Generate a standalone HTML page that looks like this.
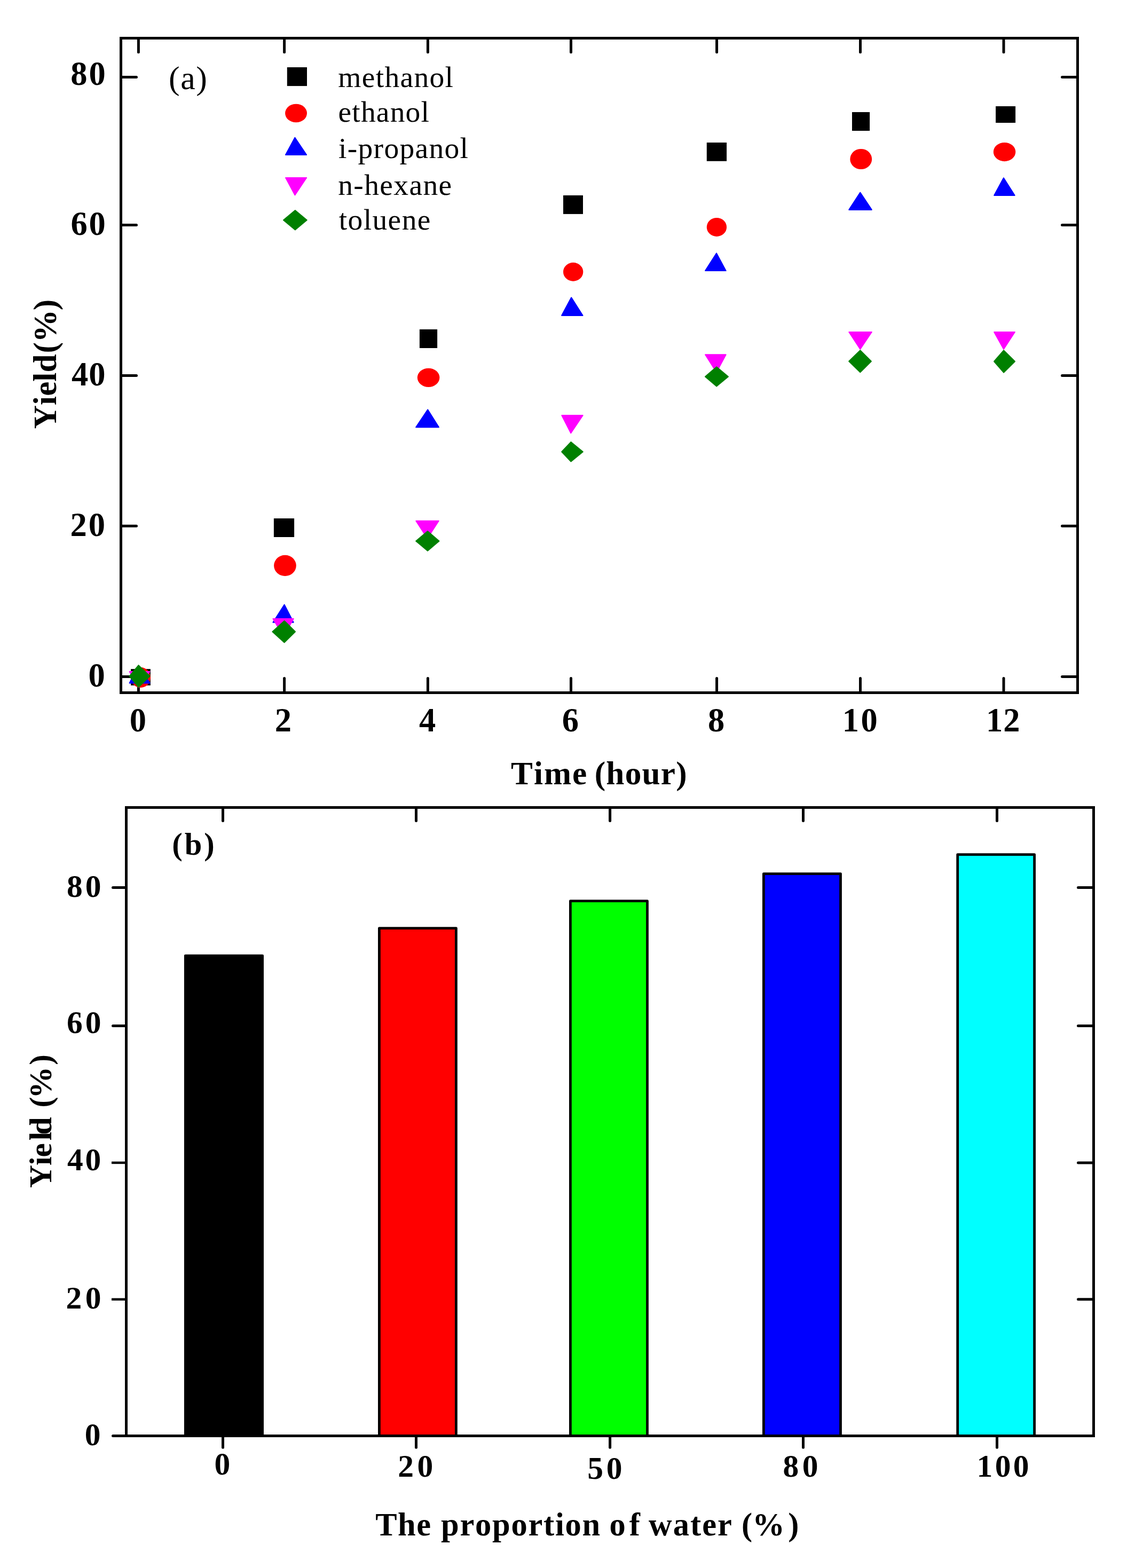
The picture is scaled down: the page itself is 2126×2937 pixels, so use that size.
<!DOCTYPE html>
<html><head><meta charset="utf-8"><title>Yield charts</title>
<style>
html,body{margin:0;padding:0;background:#fff;}
body{width:2126px;height:2937px;overflow:hidden;}
svg{display:block;font-family:"Liberation Serif","DejaVu Serif",serif;}
text{fill:#000;white-space:pre;}
</style></head><body>
<svg width="2126" height="2937" viewBox="0 0 2126 2937">
<rect width="2126" height="2937" fill="#fff"/>
<g id="chart-a">
<rect x="224.00" y="69.00" width="5.00" height="1231.00" fill="#000"/>
<rect x="2016.00" y="69.00" width="5.00" height="1231.00" fill="#000"/>
<rect x="224.00" y="69.00" width="1797.00" height="5.00" fill="#000"/>
<rect x="224.00" y="1295.00" width="1797.00" height="5.00" fill="#000"/>
<line x1="259.40" y1="1295.00" x2="259.40" y2="1270.50" stroke="#000" stroke-width="5" stroke-linecap="round"/>
<line x1="259.40" y1="74.00" x2="259.40" y2="97.80" stroke="#000" stroke-width="5" stroke-linecap="round"/>
<line x1="532.60" y1="1295.00" x2="532.60" y2="1270.50" stroke="#000" stroke-width="5" stroke-linecap="round"/>
<line x1="532.60" y1="74.00" x2="532.60" y2="97.80" stroke="#000" stroke-width="5" stroke-linecap="round"/>
<line x1="801.40" y1="1295.00" x2="801.40" y2="1270.50" stroke="#000" stroke-width="5" stroke-linecap="round"/>
<line x1="801.40" y1="74.00" x2="801.40" y2="97.80" stroke="#000" stroke-width="5" stroke-linecap="round"/>
<line x1="1069.50" y1="1295.00" x2="1069.50" y2="1270.50" stroke="#000" stroke-width="5" stroke-linecap="round"/>
<line x1="1069.50" y1="74.00" x2="1069.50" y2="97.80" stroke="#000" stroke-width="5" stroke-linecap="round"/>
<line x1="1342.60" y1="1295.00" x2="1342.60" y2="1270.50" stroke="#000" stroke-width="5" stroke-linecap="round"/>
<line x1="1342.60" y1="74.00" x2="1342.60" y2="97.80" stroke="#000" stroke-width="5" stroke-linecap="round"/>
<line x1="1611.50" y1="1295.00" x2="1611.50" y2="1270.50" stroke="#000" stroke-width="5" stroke-linecap="round"/>
<line x1="1611.50" y1="74.00" x2="1611.50" y2="97.80" stroke="#000" stroke-width="5" stroke-linecap="round"/>
<line x1="1880.00" y1="1295.00" x2="1880.00" y2="1270.50" stroke="#000" stroke-width="5" stroke-linecap="round"/>
<line x1="1880.00" y1="74.00" x2="1880.00" y2="97.80" stroke="#000" stroke-width="5" stroke-linecap="round"/>
<line x1="229.00" y1="144.60" x2="255.50" y2="144.60" stroke="#000" stroke-width="5" stroke-linecap="round"/>
<line x1="2016.00" y1="144.60" x2="1989.50" y2="144.60" stroke="#000" stroke-width="5" stroke-linecap="round"/>
<line x1="229.00" y1="421.50" x2="255.50" y2="421.50" stroke="#000" stroke-width="5" stroke-linecap="round"/>
<line x1="2016.00" y1="421.50" x2="1989.50" y2="421.50" stroke="#000" stroke-width="5" stroke-linecap="round"/>
<line x1="229.00" y1="703.50" x2="255.50" y2="703.50" stroke="#000" stroke-width="5" stroke-linecap="round"/>
<line x1="2016.00" y1="703.50" x2="1989.50" y2="703.50" stroke="#000" stroke-width="5" stroke-linecap="round"/>
<line x1="229.00" y1="985.30" x2="255.50" y2="985.30" stroke="#000" stroke-width="5" stroke-linecap="round"/>
<line x1="2016.00" y1="985.30" x2="1989.50" y2="985.30" stroke="#000" stroke-width="5" stroke-linecap="round"/>
<line x1="229.00" y1="1267.50" x2="255.50" y2="1267.50" stroke="#000" stroke-width="5" stroke-linecap="round"/>
<line x1="2016.00" y1="1267.50" x2="1989.50" y2="1267.50" stroke="#000" stroke-width="5" stroke-linecap="round"/>
<text x="242.83" y="1370.00" font-size="62.5" font-weight="bold">0</text>
<text x="514.86" y="1370.00" font-size="62.5" font-weight="bold">2</text>
<text x="784.98" y="1370.00" font-size="62.5" font-weight="bold">4</text>
<text x="1052.72" y="1370.00" font-size="62.5" font-weight="bold">6</text>
<text x="1325.88" y="1370.00" font-size="62.5" font-weight="bold">8</text>
<text x="1577.80 1612.43" y="1370.00" font-size="62.5" font-weight="bold">10</text>
<text x="1846.90 1879.34" y="1370.00" font-size="62.5" font-weight="bold">12</text>
<text x="132.22 166.53" y="158.70" font-size="62.5" font-weight="bold">80</text>
<text x="132.56 166.53" y="440.40" font-size="62.5" font-weight="bold">60</text>
<text x="133.95 166.23" y="722.30" font-size="62.5" font-weight="bold">40</text>
<text x="131.38 165.73" y="1004.00" font-size="62.5" font-weight="bold">20</text>
<text x="165.53" y="1285.50" font-size="62.5" font-weight="bold">0</text>
<text transform="translate(105.00,802.10) rotate(-90)" x="-1.08 43.20 60.24 87.46 104.50 140.58 160.88 220.80" y="0" font-size="61.3" font-weight="bold">Yield(%)</text>
<text x="957.04 999.91 1018.93 1071.98 1099.19 1113.71 1135.34 1170.66 1202.53 1237.85 1266.28" y="1469.20" font-size="61.3" font-weight="bold">Time (hour)</text>
<text x="316.08 338.19 367.18" y="167.30" font-size="62" font-weight="normal">(a)</text>
<text x="633.33 677.81 703.75 720.48 749.54 775.48 804.53 833.59" y="163.10" font-size="55.5" font-weight="normal">methanol</text>
<text x="633.53 659.34 675.93 704.85 730.65 759.57 788.49" y="228.40" font-size="55.5" font-weight="normal">ethanol</text>
<text x="634.03 650.76 670.56 699.62 719.41 748.47 777.53 803.47 832.53 861.59" y="296.00" font-size="55.5" font-weight="normal">i-propanol</text>
<text x="633.23 662.34 682.18 711.29 737.28 766.39 792.38 821.49" y="364.80" font-size="55.5" font-weight="normal">n-hexane</text>
<text x="634.66 651.48 680.63 697.45 726.60 752.64 781.79" y="429.80" font-size="55.5" font-weight="normal">toluene</text>
<rect x="537.80" y="126.00" width="37.20" height="35.10" fill="#000"/>
<ellipse cx="554.55" cy="212.05" rx="20.45" ry="17.25" fill="#f00"/>
<path d="M552.40 257.70L574.10 290.00L535.00 290.00Z" fill="#00f" stroke="#00f" stroke-width="2" stroke-linejoin="round"/>
<path d="M552.40 365.40L574.10 332.90L535.00 332.90Z" fill="#f0f" stroke="#f0f" stroke-width="2" stroke-linejoin="round"/>
<path d="M552.85 394.10L574.70 412.30L552.85 430.50L531.00 412.30Z" fill="#008000" stroke="#008000" stroke-width="2" stroke-linejoin="round"/>
<rect x="245.10" y="1253.10" width="36.80" height="30.70" fill="#000"/>
<rect x="512.90" y="971.00" width="38.20" height="35.00" fill="#000"/>
<rect x="785.90" y="616.90" width="33.20" height="35.10" fill="#000"/>
<rect x="1055.00" y="365.90" width="37.00" height="35.00" fill="#000"/>
<rect x="1323.80" y="267.00" width="37.30" height="34.80" fill="#000"/>
<rect x="1596.00" y="210.00" width="33.10" height="35.00" fill="#000"/>
<rect x="1865.10" y="199.00" width="37.00" height="31.00" fill="#000"/>
<ellipse cx="263.55" cy="1269.00" rx="18.45" ry="19.00" fill="#f00"/>
<ellipse cx="533.95" cy="1059.40" rx="20.85" ry="19.60" fill="#f00"/>
<ellipse cx="802.60" cy="707.35" rx="20.80" ry="17.65" fill="#f00"/>
<ellipse cx="1073.65" cy="509.25" rx="18.65" ry="17.45" fill="#f00"/>
<ellipse cx="1342.45" cy="425.45" rx="18.65" ry="17.45" fill="#f00"/>
<ellipse cx="1612.75" cy="298.00" rx="20.45" ry="19.10" fill="#f00"/>
<ellipse cx="1881.55" cy="284.55" rx="20.75" ry="17.65" fill="#f00"/>
<path d="M259.50 1246.60L280.50 1279.40L242.60 1279.40Z" fill="#00f" stroke="#00f" stroke-width="2" stroke-linejoin="round"/>
<path d="M532.70 1132.60L549.70 1165.80L511.40 1165.80Z" fill="#00f" stroke="#00f" stroke-width="2" stroke-linejoin="round"/>
<path d="M801.20 767.40L822.00 800.20L779.10 800.20Z" fill="#00f" stroke="#00f" stroke-width="2" stroke-linejoin="round"/>
<path d="M1070.20 557.30L1091.60 591.00L1052.10 591.00Z" fill="#00f" stroke="#00f" stroke-width="2" stroke-linejoin="round"/>
<path d="M1342.10 474.40L1359.70 507.10L1321.10 507.10Z" fill="#00f" stroke="#00f" stroke-width="2" stroke-linejoin="round"/>
<path d="M1611.30 360.60L1632.80 392.90L1590.30 392.90Z" fill="#00f" stroke="#00f" stroke-width="2" stroke-linejoin="round"/>
<path d="M1879.90 333.30L1900.70 366.00L1862.20 366.00Z" fill="#00f" stroke="#00f" stroke-width="2" stroke-linejoin="round"/>
<path d="M259.50 1287.40L280.50 1258.00L242.60 1258.00Z" fill="#f0f" stroke="#f0f" stroke-width="2" stroke-linejoin="round"/>
<path d="M531.00 1192.10L549.70 1158.90L511.40 1158.90Z" fill="#f0f" stroke="#f0f" stroke-width="2" stroke-linejoin="round"/>
<path d="M800.50 1008.40L821.70 975.70L779.30 975.70Z" fill="#f0f" stroke="#f0f" stroke-width="2" stroke-linejoin="round"/>
<path d="M1069.30 811.30L1091.70 778.00L1052.30 778.00Z" fill="#f0f" stroke="#f0f" stroke-width="2" stroke-linejoin="round"/>
<path d="M1342.00 697.20L1359.70 664.30L1321.10 664.30Z" fill="#f0f" stroke="#f0f" stroke-width="2" stroke-linejoin="round"/>
<path d="M1611.30 653.90L1632.80 621.90L1590.30 621.90Z" fill="#f0f" stroke="#f0f" stroke-width="2" stroke-linejoin="round"/>
<path d="M1880.00 653.90L1900.90 621.90L1862.20 621.90Z" fill="#f0f" stroke="#f0f" stroke-width="2" stroke-linejoin="round"/>
<path d="M259.50 1246.10L280.60 1266.55L259.50 1287.00L242.50 1266.55Z" fill="#008000" stroke="#008000" stroke-width="2" stroke-linejoin="round"/>
<path d="M532.70 1163.00L553.00 1183.20L532.70 1203.40L510.40 1183.20Z" fill="#008000" stroke="#008000" stroke-width="2" stroke-linejoin="round"/>
<path d="M801.00 995.10L822.50 1013.40L801.00 1031.70L779.20 1013.40Z" fill="#008000" stroke="#008000" stroke-width="2" stroke-linejoin="round"/>
<path d="M1069.50 827.90L1091.80 846.20L1069.50 864.50L1052.20 846.20Z" fill="#008000" stroke="#008000" stroke-width="2" stroke-linejoin="round"/>
<path d="M1342.20 687.30L1364.00 705.45L1342.20 723.60L1321.00 705.45Z" fill="#008000" stroke="#008000" stroke-width="2" stroke-linejoin="round"/>
<path d="M1611.30 656.30L1631.90 676.80L1611.30 697.30L1590.20 676.80Z" fill="#008000" stroke="#008000" stroke-width="2" stroke-linejoin="round"/>
<path d="M1880.00 656.30L1901.00 677.00L1880.00 697.70L1862.10 677.00Z" fill="#008000" stroke="#008000" stroke-width="2" stroke-linejoin="round"/>
</g>
<g id="chart-b">
<rect x="347.30" y="1790.10" width="144.30" height="899.40" fill="#000" stroke="#000" stroke-width="4.8" stroke-linejoin="round"/>
<rect x="710.40" y="1738.60" width="144.00" height="950.90" fill="#f00" stroke="#000" stroke-width="4.8" stroke-linejoin="round"/>
<rect x="1068.40" y="1687.70" width="144.10" height="1001.80" fill="#0f0" stroke="#000" stroke-width="4.8" stroke-linejoin="round"/>
<rect x="1430.40" y="1636.60" width="144.10" height="1052.90" fill="#00f" stroke="#000" stroke-width="4.8" stroke-linejoin="round"/>
<rect x="1793.70" y="1600.60" width="143.90" height="1088.90" fill="#0ff" stroke="#000" stroke-width="4.8" stroke-linejoin="round"/>
<rect x="234.00" y="1510.00" width="5.00" height="1182.00" fill="#000"/>
<rect x="2046.00" y="1510.00" width="5.00" height="1182.00" fill="#000"/>
<rect x="234.00" y="1510.00" width="1817.00" height="5.00" fill="#000"/>
<rect x="234.00" y="2687.00" width="1817.00" height="5.00" fill="#000"/>
<line x1="417.50" y1="1515.00" x2="417.50" y2="1537.50" stroke="#000" stroke-width="5" stroke-linecap="round"/>
<line x1="417.50" y1="2690.00" x2="417.50" y2="2711.20" stroke="#000" stroke-width="5" stroke-linecap="round"/>
<line x1="779.50" y1="1515.00" x2="779.50" y2="1537.50" stroke="#000" stroke-width="5" stroke-linecap="round"/>
<line x1="779.50" y1="2690.00" x2="779.50" y2="2711.20" stroke="#000" stroke-width="5" stroke-linecap="round"/>
<line x1="1142.60" y1="1515.00" x2="1142.60" y2="1537.50" stroke="#000" stroke-width="5" stroke-linecap="round"/>
<line x1="1142.60" y1="2690.00" x2="1142.60" y2="2711.20" stroke="#000" stroke-width="5" stroke-linecap="round"/>
<line x1="1504.50" y1="1515.00" x2="1504.50" y2="1537.50" stroke="#000" stroke-width="5" stroke-linecap="round"/>
<line x1="1504.50" y1="2690.00" x2="1504.50" y2="2711.20" stroke="#000" stroke-width="5" stroke-linecap="round"/>
<line x1="1867.50" y1="1515.00" x2="1867.50" y2="1537.50" stroke="#000" stroke-width="5" stroke-linecap="round"/>
<line x1="1867.50" y1="2690.00" x2="1867.50" y2="2711.20" stroke="#000" stroke-width="5" stroke-linecap="round"/>
<line x1="236.50" y1="1662.40" x2="211.50" y2="1662.40" stroke="#000" stroke-width="5" stroke-linecap="round"/>
<line x1="2046.00" y1="1662.40" x2="2019.50" y2="1662.40" stroke="#000" stroke-width="5" stroke-linecap="round"/>
<line x1="236.50" y1="1921.40" x2="211.50" y2="1921.40" stroke="#000" stroke-width="5" stroke-linecap="round"/>
<line x1="2046.00" y1="1921.40" x2="2019.50" y2="1921.40" stroke="#000" stroke-width="5" stroke-linecap="round"/>
<line x1="236.50" y1="2177.90" x2="209.00" y2="2177.90" stroke="#000" stroke-width="4.5" stroke-linecap="butt"/>
<line x1="2046.00" y1="2177.90" x2="2019.50" y2="2177.90" stroke="#000" stroke-width="5" stroke-linecap="round"/>
<line x1="236.50" y1="2433.80" x2="209.00" y2="2433.80" stroke="#000" stroke-width="4.5" stroke-linecap="butt"/>
<line x1="2046.00" y1="2433.80" x2="2019.50" y2="2433.80" stroke="#000" stroke-width="5" stroke-linecap="round"/>
<line x1="236.50" y1="2689.50" x2="211.50" y2="2689.50" stroke="#000" stroke-width="5" stroke-linecap="round"/>
<line x1="2046.00" y1="2689.50" x2="2019.50" y2="2689.50" stroke="#000" stroke-width="5" stroke-linecap="round"/>
<text x="401.62" y="2762.00" font-size="59.5" font-weight="bold">0</text>
<text x="745.30 781.62" y="2765.80" font-size="59.5" font-weight="bold">20</text>
<text x="1100.32 1135.82" y="2769.50" font-size="59.5" font-weight="bold">50</text>
<text x="1466.62 1502.82" y="2765.60" font-size="59.5" font-weight="bold">80</text>
<text x="1829.54 1863.68 1897.82" y="2765.50" font-size="59.5" font-weight="bold">100</text>
<text x="125.02 159.82" y="1680.20" font-size="59.5" font-weight="bold">80</text>
<text x="124.97 159.82" y="1935.20" font-size="59.5" font-weight="bold">60</text>
<text x="125.99 159.62" y="2191.60" font-size="59.5" font-weight="bold">40</text>
<text x="123.50 159.82" y="2451.40" font-size="59.5" font-weight="bold">20</text>
<text x="158.73" y="2707.10" font-size="59.5" font-weight="bold">0</text>
<text transform="translate(96.10,2224.00) rotate(-90)" x="-1.05 40.91 56.43 87.84 98.58 131.67 149.44 166.59 229.14" y="0" font-size="59.5" font-weight="bold">Yield (%)</text>
<text x="703.15 745.09 780.31 807.17 826.03 861.44 890.05 922.06 957.47 989.47 1018.09 1039.99 1058.56 1090.57 1124.22 1141.40 1178.76 1198.91 1215.12 1260.81 1293.06 1315.20 1344.05 1370.90 1389.07 1409.28 1476.13" y="2876.40" font-size="60.5" font-weight="bold">The proportion of water (%)</text>
<text x="322.23 345.73 382.29" y="1600.90" font-size="58.5" font-weight="bold">(b)</text>
</g>
</svg>
</body></html>
